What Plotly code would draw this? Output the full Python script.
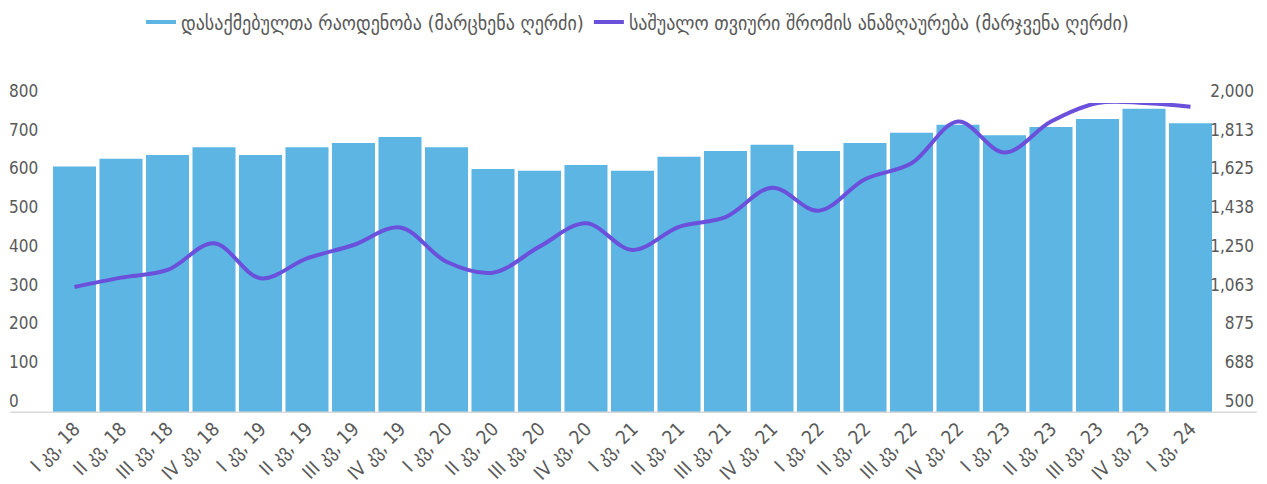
import plotly.graph_objects as go

quarters = [
    "I კვ, 18", "II კვ, 18", "III კვ, 18", "IV კვ, 18",
    "I კვ, 19", "II კვ, 19", "III კვ, 19", "IV კვ, 19",
    "I კვ, 20", "II კვ, 20", "III კვ, 20", "IV კვ, 20",
    "I კვ, 21", "II კვ, 21", "III კვ, 21", "IV კვ, 21",
    "I კვ, 22", "II კვ, 22", "III კვ, 22", "IV კვ, 22",
    "I კვ, 23", "II კვ, 23", "III კვ, 23", "IV კვ, 23",
    "I კვ, 24",
]

# employed persons (left axis)
employed = [636, 656, 666, 686, 666, 686, 697, 712, 686, 630, 625, 640, 625,
            661, 676, 692, 676, 697, 723, 744, 717, 738, 759, 785, 748]

# average monthly wage (right axis)
wage = [1110, 1155, 1192, 1321, 1152, 1248, 1313, 1398, 1232, 1179, 1305, 1418, 1289,
        1401, 1448, 1590, 1479, 1631, 1708, 1910, 1760, 1910, 2000, 2000, 1982]

left_ticks = [0, 100, 200, 300, 400, 500, 600, 700, 800]
right_ticks = [500 + 187.5 * i for i in range(9)]

name_bar = "დასაქმებულთა რაოდენობა (მარცხენა ღერძი)"
name_line = "საშუალო თვიური შრომის ანაზღაურება (მარჯვენა ღერძი)"

BAR_COLOR = "#5db5e3"
LINE_COLOR = "#6b50dc"
TEXT_COLOR = "#595959"
FONT = "Liberation Sans Narrow, DejaVu Sans Condensed, DejaVu Sans, sans-serif"

# page body keeps its default 8px margin, so the figure is 8px smaller
W, H = 1259, 476

fig = go.Figure()

fig.add_trace(go.Bar(
    x=quarters, y=employed, name=name_bar,
    marker=dict(color=BAR_COLOR, line=dict(width=0)),
    showlegend=False,
))
# legend entry for bars drawn as a short line, like the original
fig.add_trace(go.Scatter(
    x=[None], y=[None], mode="lines", name=name_bar,
    line=dict(color=BAR_COLOR, width=4),
))
fig.add_trace(go.Scatter(
    x=quarters, y=wage, name=name_line, yaxis="y2",
    mode="lines", line=dict(color=LINE_COLOR, width=4, shape="spline", smoothing=1),
))

fig.update_layout(
    width=W, height=H,
    margin=dict(l=0, r=0, t=95, b=71),
    plot_bgcolor="white", paper_bgcolor="white",
    font=dict(family=FONT, size=17, color=TEXT_COLOR),
    bargap=0.075,
    showlegend=True,
    legend=dict(
        orientation="h", x=0.5, xanchor="center",
        yref="container", y=1 - 14 / H, yanchor="middle",
        font=dict(size=20, color=TEXT_COLOR), itemwidth=30, tracegroupgap=0,
    ),
    xaxis=dict(
        domain=[43.25 / W, 1205.75 / W],
        tickangle=-45, showgrid=False, showline=False, zeroline=False,
        ticks="", tickfont=dict(size=19), automargin=False,
    ),
    # left-aligned labels at the far left, right-aligned labels at the far right
    yaxis=dict(
        range=[0, 800], tickvals=left_ticks, anchor="free", position=0,
        side="right", ticklabelshift=-12, ticklabelstandoff=0,
        showgrid=False, zeroline=False, showline=False, ticks="",
        automargin=False,
    ),
    yaxis2=dict(
        range=[500, 2000], tickvals=right_ticks,
        ticktext=[f"{int(v + 0.5):,}" for v in right_ticks],
        overlaying="y", anchor="free", position=1246 / W, side="left",
        ticklabelshift=-12, ticklabelstandoff=0,
        showgrid=False, zeroline=False, showline=False, ticks="",
        automargin=False,
    ),
    shapes=[dict(
        type="line", xref="paper", yref="y", x0=2 / W, x1=1249 / W, y0=0, y1=0,
        line=dict(color="#d9d9d9", width=3), layer="above",
    )],
)

fig.write_html("out.html")
